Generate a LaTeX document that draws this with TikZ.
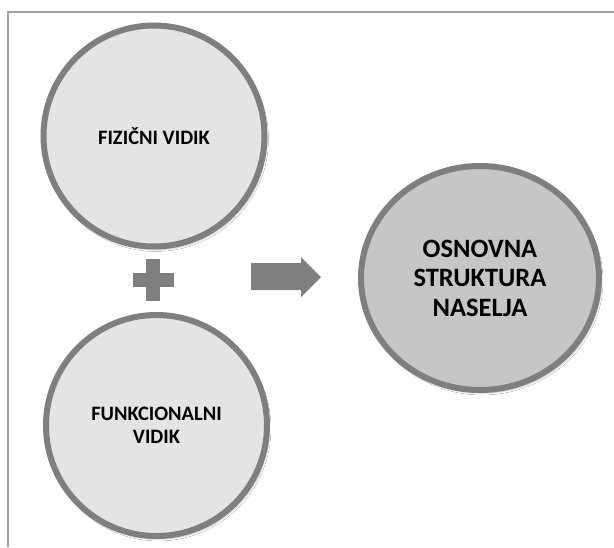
\documentclass[tikz,border=0pt]{standalone}
\usepackage{fontspec}
\setmainfont{Carlito}
\usetikzlibrary{shapes.geometric,shadows.blur}
\definecolor{ringgray}{HTML}{7F7F7F}
\definecolor{lightfill}{HTML}{E4E4E4}
\definecolor{darkfill}{HTML}{C6C6C6}
\definecolor{framegray}{HTML}{A0A0A0}
\tikzset{
  aspect/.style={circle, draw=ringgray, line width=6pt, fill=lightfill, minimum size=221pt, inner sep=0pt, align=center, text=black,
    blur shadow={shadow xshift=2pt, shadow yshift=-3pt, shadow blur steps=6, shadow opacity=25}},
  result/.style={ellipse, draw=ringgray, line width=6pt, fill=darkfill, minimum width=238pt, minimum height=224pt, inner sep=0pt, align=center, text=black,
    blur shadow={shadow xshift=2pt, shadow yshift=-3pt, shadow blur steps=6, shadow opacity=25}},
  smalltext/.style={font=\fontsize{20.5}{23.5}\selectfont\bfseries},
  bigtext/.style={font=\fontsize{26.5}{29.5}\selectfont\bfseries},
  glyph/.style={fill=ringgray, draw=none},
  framing/.style={draw=framegray, line width=1.5pt}
}
\begin{document}
\begin{tikzpicture}[x=1pt,y=-1pt]
\useasboundingbox (0,0) rectangle (614,547);
\fill[white] (0,0) rectangle (614,547);
\coordinate (fa) at (8,547);
\coordinate (fb) at (8,12);
\coordinate (fc) at (614,12);
\draw[framing] (fa) -- (fb) -- (fc);
\node[aspect, smalltext] (fiz) at (154,136) {FIZIČNI VIDIK};
\node[aspect, smalltext] (fun) at (156.5,425.5) {FUNKCIONALNI\\VIDIK};
\node[result, bigtext] (osn) at (480,278) {OSNOVNA\\STRUKTURA\\NASELJA};
% plus sign
\node[glyph, minimum width=41pt, minimum height=13.5pt, inner sep=0pt] (plush) at (153,280) {};
\node[glyph, minimum width=14pt, minimum height=42pt, inner sep=0pt] (plusv) at (153,280) {};
% block arrow
\coordinate (a1) at (251,263);
\coordinate (a2) at (301,263);
\coordinate (a3) at (301,257);
\coordinate (a4) at (321,277);
\coordinate (a5) at (301,297);
\coordinate (a6) at (301,290);
\coordinate (a7) at (251,290);
\fill[ringgray] (a1) -- (a2) -- (a3) -- (a4) -- (a5) -- (a6) -- (a7) -- cycle;
\end{tikzpicture}
\end{document}
